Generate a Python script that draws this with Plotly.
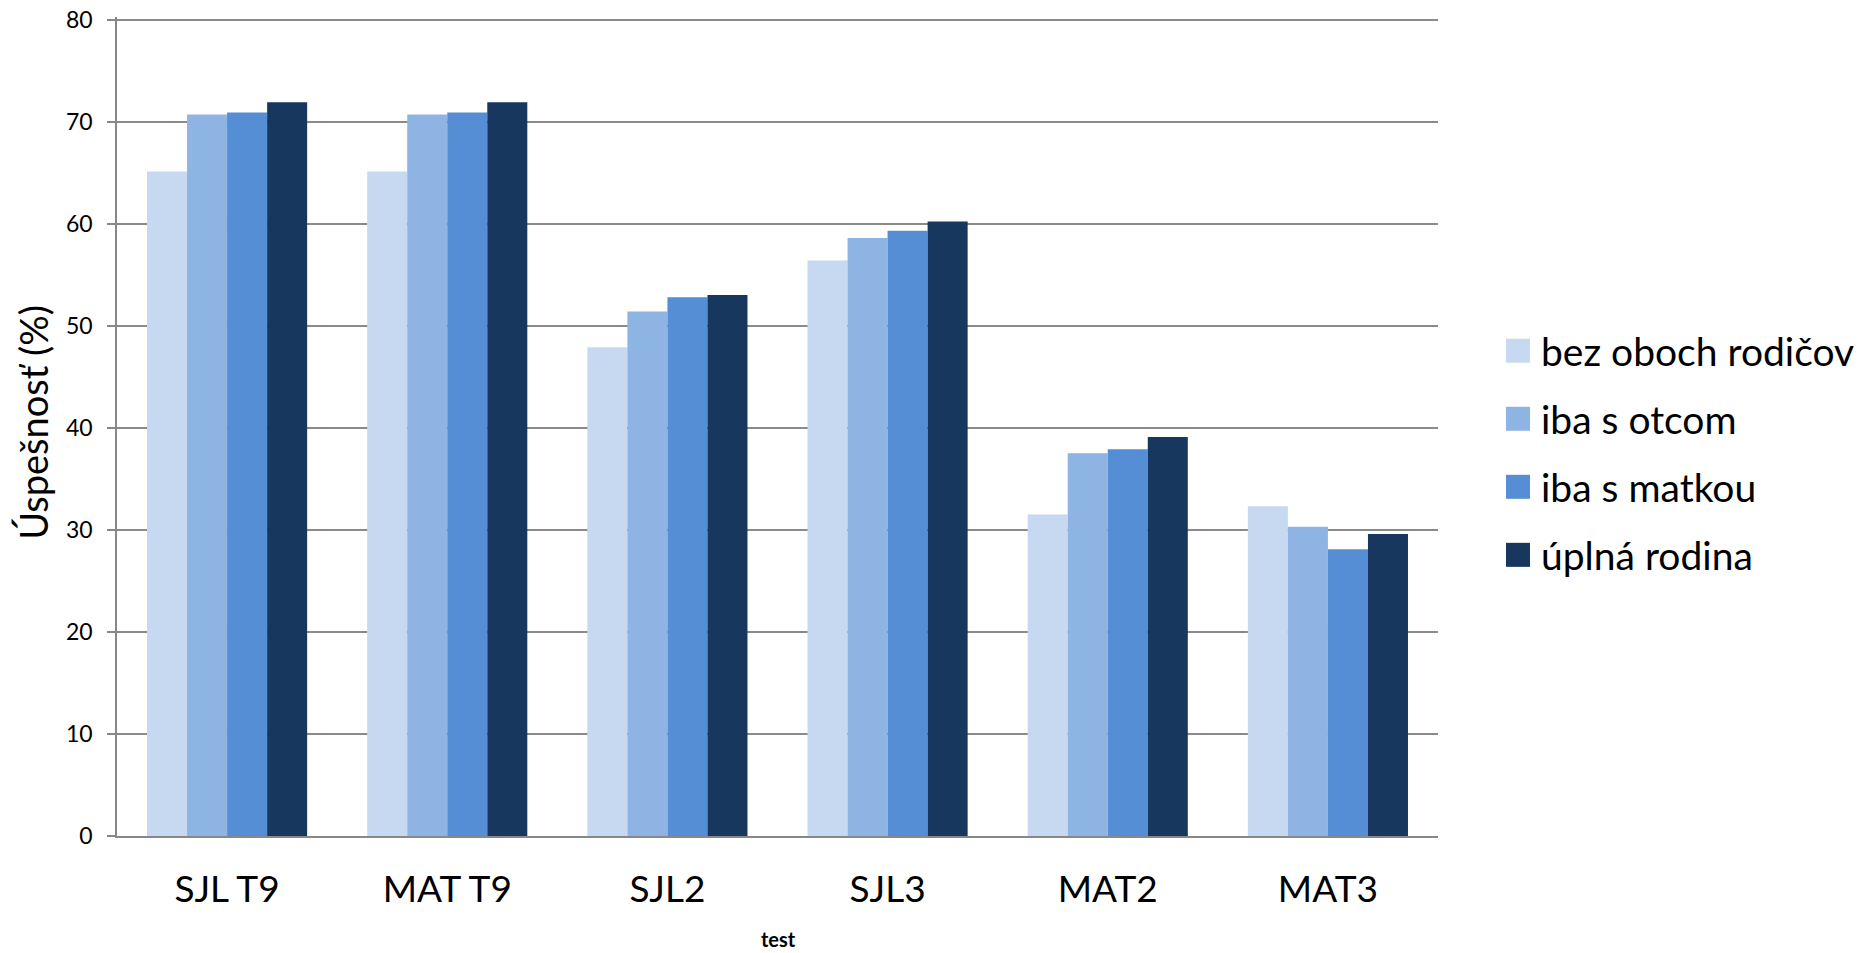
import plotly.graph_objects as go

categories = ["SJL T9", "MAT T9", "SJL2", "SJL3", "MAT2", "MAT3"]
series_names = ["bez oboch rodičov", "iba s otcom", "iba s matkou", "úplná rodina"]
bez_oboch = [65.1, 65.1, 47.9, 56.4, 31.5, 32.3]
iba_otec = [70.7, 70.7, 51.4, 58.6, 37.5, 30.3]
iba_matka = [70.9, 70.9, 52.8, 59.3, 37.9, 28.1]
uplna = [71.9, 71.9, 53.0, 60.2, 39.1, 29.6]
series_values = [bez_oboch, iba_otec, iba_matka, uplna]
colors = ["#C6D9F1", "#8EB4E3", "#558ED5", "#17375E"]
y_ticks = [0, 10, 20, 30, 40, 50, 60, 70, 80]

W, H = 1862, 953
# value 0 at y 836, value 80 at y 20; a little headroom so the 80 gridline shows
Y_TOP = 80.25
SCALE = (836 - 20) / 80.0
PL, PR, PB = 117, 1438, 836
PT = PB - Y_TOP * SCALE
FONT = "Lato"


def xp(px):
    return (px - PL) / (PR - PL)


def yp(py):
    return (PB - py) / (PB - PT)


fig = go.Figure()
for name, vals, col in zip(series_names, series_values, colors):
    fig.add_trace(go.Bar(
        x=categories, y=vals, name=name,
        marker=dict(color=col, line=dict(width=0)),
        showlegend=False,
    ))

# custom legend (large square swatches)
shapes = []
annotations = []
row0, step = 351, 68
for i, (name, col) in enumerate(zip(series_names, colors)):
    cy = row0 + i * step
    shapes.append(dict(type="rect", xref="paper", yref="paper",
                       x0=xp(1506), x1=xp(1530), y0=yp(cy + 12), y1=yp(cy - 12),
                       fillcolor=col, line=dict(width=0)))
    annotations.append(dict(xref="paper", yref="paper", x=xp(1539), y=yp(cy),
                            xanchor="left", yanchor="middle", showarrow=False,
                            text=name, font=dict(family=FONT, size=39, color="#000000")))

# axis titles
annotations.append(dict(xref="paper", yref="paper", x=xp(33), y=yp(423),
                        xanchor="center", yanchor="middle", showarrow=False,
                        text="Úspešnosť (%)", textangle=-90,
                        font=dict(family=FONT, size=38, color="#000000")))
annotations.append(dict(xref="paper", yref="paper", x=xp(778), y=yp(952),
                        xanchor="center", yanchor="bottom", showarrow=False,
                        borderpad=0,
                        text="<b>test</b>",
                        font=dict(family=FONT, size=20, color="#000000")))

fig.update_layout(
    width=W, height=H,
    margin=dict(l=PL, r=W - PR, t=PT, b=H - PB, autoexpand=False),
    paper_bgcolor="white", plot_bgcolor="white",
    barmode="group", bargap=0.2727, bargroupgap=0,
    font=dict(family=FONT, color="#000000"),
    shapes=shapes, annotations=annotations,
    xaxis=dict(
        showline=True, linecolor="#888888", linewidth=1.5,
        ticks="", showgrid=False,
        tickfont=dict(family=FONT, size=37, color="#000000"),
        ticklabelstandoff=20,
    ),
    yaxis=dict(
        range=[0, Y_TOP], tickvals=y_ticks, ticktext=[str(v) for v in y_ticks],
        showline=True, linecolor="#888888", linewidth=1.5,
        ticks="outside", ticklen=8, tickcolor="#888888", tickwidth=1.5,
        showgrid=True, gridcolor="#8a8a8a", gridwidth=1.5,
        zeroline=False,
        tickfont=dict(family=FONT, size=23, color="#000000"),
        ticklabelstandoff=10, ticklabeloverflow="allow",
    ),
)

# remove the browser's default 8px page margin so the figure fills the window
fig.write_html(
    "out.html",
    config={"displayModeBar": False},
    post_script="document.body.style.margin='0';document.body.style.overflow='hidden';",
)
